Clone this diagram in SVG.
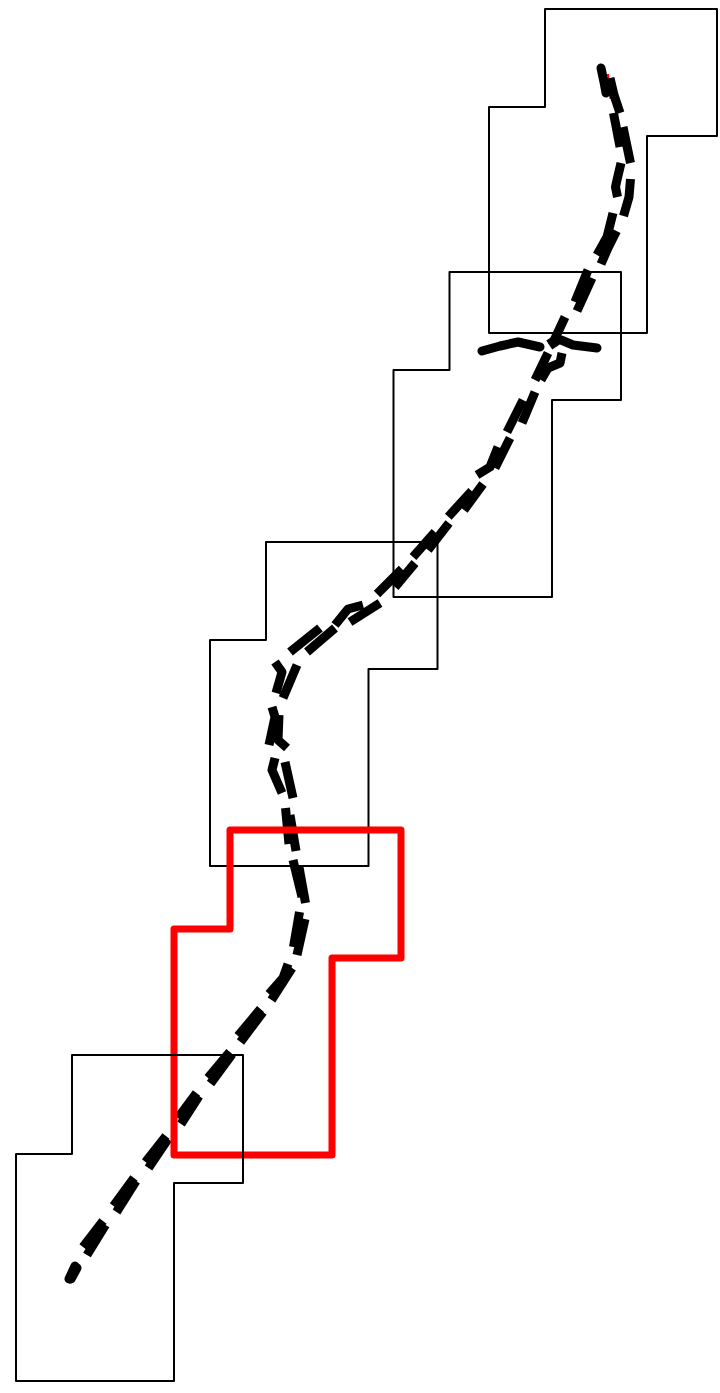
<svg xmlns="http://www.w3.org/2000/svg" width="720" height="1393" viewBox="0 0 720 1393">
<style>
.o{fill:none;stroke:#000;stroke-width:2;stroke-linejoin:round}
.r{fill:none;stroke:#f00;stroke-width:7;stroke-linejoin:round}
.d path{fill:none;stroke:#000;stroke-width:9;stroke-linejoin:round}
.e{stroke-linecap:round}
.t{fill:none;stroke:#f00;stroke-width:2}
</style>
<rect width="720" height="1393" fill="#fff"/>
<g id="region-1"><path class="o" d="M545,9H717V136H647V333H489V107H545Z"/></g>
<g id="region-2"><path class="o" d="M449.500,272H621V400H552V597H393.500V370H449.500Z"/></g>
<g id="region-3"><path class="o" d="M266,542H437.500V669H368.500V866H210V640H266Z"/></g>
<g id="connectors">
<path class="t" d="M608,74L610.500,99M605,82H613M606,94H613"/>
<g class="d">
<path class="e" d="M601,68L604,82L606,93"/>
<path d="M610,78L614,95L620,113"/>
<path d="M613.500,113L620,147"/>
<path d="M623,127L630.500,163"/>
<path d="M621,163L617,180L615.500,187L617.500,197"/>
<path d="M630.500,179L629,197L623.500,216"/>
<path d="M613,213L607,237L597,255"/>
<path d="M616.500,231L608,248L601,264"/>
<path d="M588,270L575,302"/>
<path d="M592,278L577,311"/>
<path d="M565,317L552,345"/>
<path class="e" d="M482,351L500,346L518,342L540,347"/>
<path d="M550,338L556,347"/>
<path class="e" d="M561,340L573,345L597,348"/>
<path d="M548,353L535,380"/>
<path d="M562,353L560,363L548,368L541,380"/>
<path d="M535,392L522,423"/>
<path d="M523,400L507,432"/>
<path d="M510,438L495,468"/>
<path d="M498,447L490,467L477,475"/>
<path d="M483,484L464,510"/>
<path d="M471.700,491L448.300,516.700"/>
<path d="M449,523L428,550"/>
<path d="M435,532L413,557"/>
<path d="M415,563L395,587"/>
<path d="M402,569L377,594"/>
<path d="M380,603L350,622"/>
<path d="M363,605L348,609L335,625"/>
<path d="M335,628L307,652"/>
<path d="M320,628L290,652"/>
<path d="M275,662L282,672L276,693"/>
<path d="M297,665L283,698"/>
<path d="M272,707L275,717L269,745"/>
<path d="M279,715L278,740L287,748"/>
<path d="M275,758L272,770L282,793"/>
<path d="M285,762L293,798"/>
<path d="M285.500,808L289,844"/>
<path d="M290,815L296,851"/>
<path d="M293,860L302,897"/>
<path d="M299,867L305.500,903"/>
<path d="M299.500,912L293.500,947"/>
<path d="M305,919L297,955"/>
<path d="M288,964L283,978L269,994"/>
<path d="M292,968L271.500,1000"/>
<path d="M260.500,1009L238,1036"/>
<path d="M263,1012L240.500,1042"/>
<path d="M229.800,1052L208,1078"/>
<path d="M232.200,1054L210.500,1083.500"/>
<path d="M196.500,1093L178,1118"/>
<path d="M199,1096L181,1124"/>
<path d="M166,1136L145.500,1162"/>
<path d="M168,1139L148.500,1168"/>
<path d="M134,1178L113.500,1206"/>
<path d="M136,1181L116.500,1212"/>
<path d="M103,1221L83,1247"/>
<path d="M105.500,1225L87,1255"/>
<path class="e" d="M75,1266L69,1279"/>
<path class="e" d="M77,1268L71,1279"/>
</g>
</g>
<g id="region-4"><path class="r" d="M230,830H401V958H332V1155H174V929H230Z"/></g>
<g id="region-5"><path class="o" d="M72,1055H243V1183H174V1381H16V1154H72Z"/></g>
</svg>
